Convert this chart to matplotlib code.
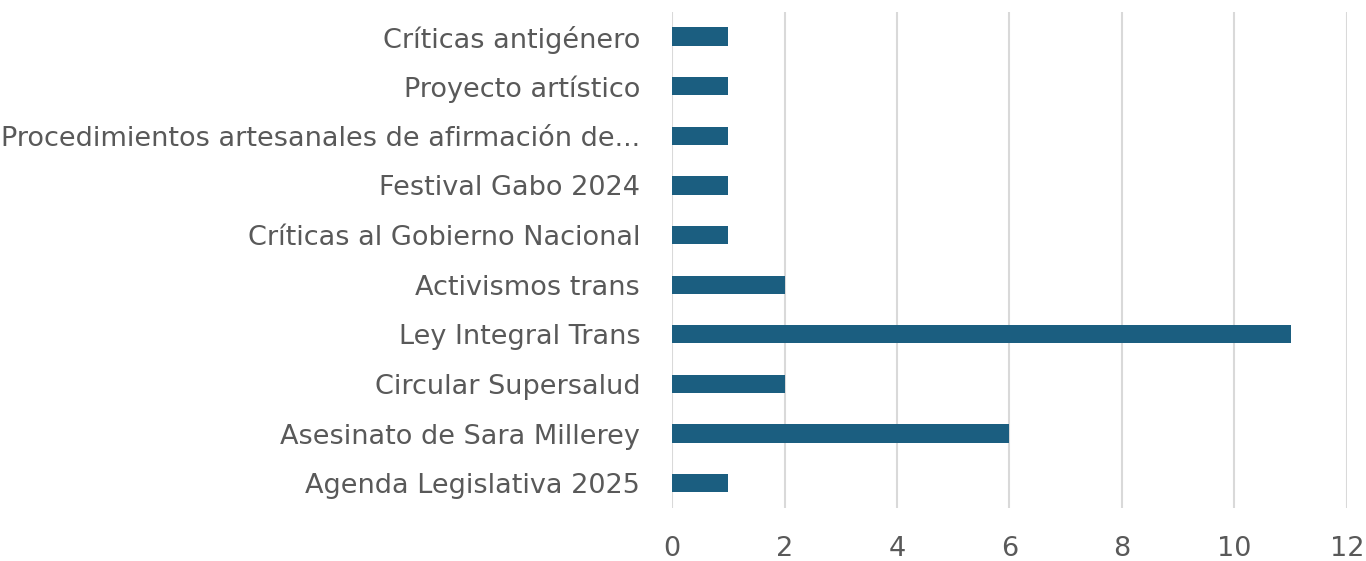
import matplotlib
matplotlib.use("Agg")
import matplotlib.pyplot as plt

categories = [
    "Agenda Legislativa 2025",
    "Asesinato de Sara Millerey",
    "Circular Supersalud",
    "Ley Integral Trans",
    "Activismos trans",
    "Críticas al Gobierno Nacional",
    "Festival Gabo 2024",
    "Procedimientos artesanales de afirmación de...",
    "Proyecto artístico",
    "Críticas antigénero",
]
values = [1, 6, 2, 11, 2, 1, 1, 1, 1, 1]
xticks = [0, 2, 4, 6, 8, 10, 12]

fig = plt.figure(figsize=(13.66, 5.61), dpi=100)
ax = fig.add_axes([0.492, 0.0945, 0.494, 0.8845])
ax.barh(range(len(categories)), values, height=0.37, color="#1b5e80", zorder=3)
ax.set_xlim(0, 12)
ax.set_ylim(-0.5, len(categories) - 0.5)
ax.set_xticks(xticks)
ax.set_yticks(range(len(categories)))
ax.set_yticklabels(categories)
ax.grid(axis="x", color="#d9d9d9", linewidth=1.5, zorder=0)
for s in ax.spines.values():
    s.set_visible(False)
ax.tick_params(axis="both", length=0, labelsize=19.5, labelcolor="#595959")
ax.tick_params(axis="y", pad=23)
ax.tick_params(axis="x", pad=20)
for lbl in ax.get_xticklabels() + ax.get_yticklabels():
    lbl.set_family("DejaVu Sans")
fig.savefig("out.png", dpi=100, facecolor="white")
